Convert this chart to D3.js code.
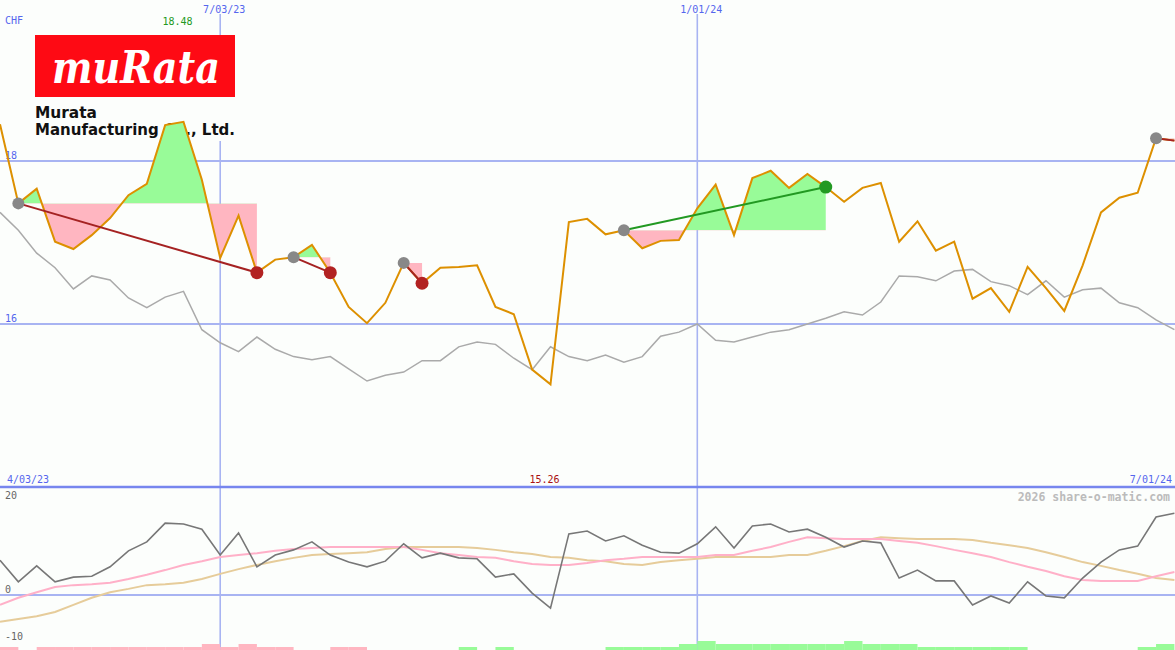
<!DOCTYPE html>
<html><head><meta charset="utf-8">
<script src="https://cdn.jsdelivr.net/npm/d3@7"></script>
<style>body{margin:0;background:#fcfefc;overflow:hidden}svg{display:block}</style>
</head><body>
<svg id="c" width="1175" height="650"></svg>
<script>
// ---- data ----
const startWeek = "2023-04-10";
const price = [18.45,17.48,17.66,17.01,16.92,17.09,17.30,17.58,17.72,18.44,18.48,17.77,16.81,17.33,16.63,16.79,16.82,16.97,16.63,16.21,16.01,16.26,16.75,16.50,16.69,16.70,16.72,16.21,16.12,15.44,15.26,17.25,17.29,17.10,17.15,16.93,17.02,17.03,17.42,17.71,17.09,17.79,17.88,17.67,17.84,17.68,17.50,17.67,17.73,17.01,17.26,16.90,17.01,16.31,16.44,16.15,16.70,16.44,16.16,16.72,17.37,17.55,17.61,18.28,18.25];
const relative = [17.37,17.15,16.87,16.69,16.43,16.59,16.54,16.32,16.20,16.33,16.40,15.93,15.77,15.66,15.84,15.69,15.60,15.56,15.60,15.45,15.30,15.37,15.41,15.55,15.55,15.72,15.78,15.75,15.58,15.44,15.72,15.60,15.55,15.62,15.53,15.60,15.85,15.90,16.00,15.80,15.78,15.84,15.90,15.93,16.00,16.07,16.15,16.11,16.27,16.59,16.58,16.53,16.65,16.67,16.52,16.47,16.36,16.53,16.33,16.42,16.44,16.26,16.20,16.05,15.93];
const momentum = [7.4,2.8,6.2,2.8,3.8,4.0,6.0,9.4,11.3,15.3,15.1,14.0,8.5,13.2,6.0,8.5,9.6,11.3,8.5,7.0,6.0,7.2,10.9,7.9,8.9,7.9,7.7,3.8,4.5,0.4,-2.8,13.0,13.6,11.5,12.6,10.6,9.1,8.9,10.9,14.5,10.0,14.7,15.1,13.4,14.0,12.3,10.2,11.5,11.1,3.6,5.3,3.0,3.0,-2.1,-0.2,-1.7,2.8,-0.2,-0.6,3.6,7.0,9.6,10.4,16.6,17.4];
const avgFast = [-2.1,-0.6,0.6,1.7,2.1,2.3,2.6,3.4,4.3,5.3,6.4,7.2,8.1,8.5,8.9,9.4,9.8,10.0,10.2,10.2,10.2,10.2,10.2,9.6,8.9,8.5,8.1,7.9,7.2,6.6,6.4,6.4,6.8,7.4,7.7,8.1,8.1,8.1,8.1,8.5,8.5,9.4,10.2,11.3,12.3,12.1,11.9,11.9,11.9,11.5,11.1,10.4,9.6,8.9,8.1,7.0,6.0,5.1,4.0,3.2,3.0,3.0,3.0,4.0,4.9];
const avgSlow = [-5.7,-5.1,-4.5,-3.6,-2.1,-0.6,0.6,1.3,2.1,2.3,2.6,3.4,4.5,5.5,6.4,7.2,7.9,8.5,8.7,8.9,9.1,9.8,10.2,10.2,10.2,10.2,10.0,9.6,9.1,8.7,8.1,7.9,7.4,7.2,6.6,6.4,7.0,7.4,7.7,8.1,8.1,8.1,8.1,8.5,8.5,9.4,10.4,11.5,12.3,12.1,11.9,11.9,11.9,11.7,11.1,10.6,10.0,9.1,8.1,7.0,6.2,5.3,4.5,3.6,3.2];
const bars = [-1,0,-1,-1,-1,-1,-1,-1,-1,-1,-1,-2,-1,-2,-1,-1,0,0,-1,-1,0,0,0,0,0,1,0,1,0,0,0,0,0,1,1,1,1,2,3,2,2,2,2,2,2,2,3,2,2,2,1,1,1,1,1,1,0,0,0,0,0,0,1,2,0];
const segments = [
  {from:1, to:14, dir:"down", endDot:true},
  {from:16, to:18, dir:"down", endDot:true},
  {from:22, to:23, dir:"down", endDot:true},
  {from:34, to:45, dir:"up", endDot:true},
  {from:63, to:64, dir:"down", endDot:false}
];
const priceTicks = [16, 18];
const momTicks = [20, 0, -10];
const dateTicks = ["2023-07-03","2024-01-01"];
const dateTickLabels = ["7/03/23","1/01/24"];
const rangeLabels = ["4/03/23","7/01/24"];
const currency = "CHF";
const company = ["Murata","Manufacturing Co., Ltd."];

// ---- scales ----
const parse = d3.timeParse("%Y-%m-%d");
const t0 = parse(startWeek);
const dates = price.map((_, i) => d3.timeWeek.offset(t0, i));
const x = d3.scaleTime().domain([dates[0], dates[dates.length-1]]).range([0, 1174.4]);
const y = d3.scaleLinear().domain([16, 18]).range([324, 161]);
const ym = d3.scaleLinear().domain([0, 20]).range([595, 501]);
const yb = d3.scaleLinear().domain([0, 3]).range([650, 641]);

const svg = d3.select("#c");
const W = 1175, H = 650;
const blue = "#5566ee", grid = "#a8b4f2";
const mono = "'DejaVu Sans Mono', monospace";

svg.append("rect").attr("width", W).attr("height", H).attr("fill", "#fcfefc");

// gridlines
svg.selectAll(".hg").data(priceTicks).join("line")
  .attr("x1", 0).attr("x2", W).attr("y1", d => y(d)).attr("y2", d => y(d))
  .attr("stroke", grid).attr("stroke-width", 2);
svg.selectAll(".vg").data(dateTicks).join("line")
  .attr("x1", d => x(parse(d))).attr("x2", d => x(parse(d)))
  .attr("y1", 14).attr("y2", H).attr("stroke", grid).attr("stroke-width", 1.6);
svg.append("line").attr("x1", 0).attr("x2", W).attr("y1", ym(0)).attr("y2", ym(0))
  .attr("stroke", grid).attr("stroke-width", 2);
svg.append("line").attr("x1", 0).attr("x2", W).attr("y1", 487).attr("y2", 487)
  .attr("stroke", "#7786ee").attr("stroke-width", 2.5);

// labels
svg.append("text").attr("x", 5).attr("y", 24).attr("fill", blue).attr("font-family", mono).attr("font-size", 10).text(currency);
svg.selectAll(".pt").data(priceTicks).join("text")
  .attr("x", 5).attr("y", d => y(d) - 2).attr("fill", blue).attr("font-family", mono).attr("font-size", 10).text(d => d);
svg.selectAll(".dt").data(dateTicks).join("text")
  .attr("x", d => x(parse(d)) + 4).attr("y", 13).attr("text-anchor", "middle")
  .attr("fill", blue).attr("font-family", mono).attr("font-size", 10).text((d, i) => dateTickLabels[i]);
svg.append("text").attr("x", 7).attr("y", 483).attr("fill", blue).attr("font-family", mono).attr("font-size", 10).text(rangeLabels[0]);
svg.append("text").attr("x", 1172).attr("y", 483).attr("text-anchor", "end").attr("fill", blue).attr("font-family", mono).attr("font-size", 10).text(rangeLabels[1]);
svg.selectAll(".mt").data(momTicks).join("text")
  .attr("x", 5).attr("y", d => ym(d) - 2).attr("fill", "#666").attr("font-family", mono).attr("font-size", 10).text(d => d);
svg.append("text").attr("x", 1170).attr("y", 501).attr("text-anchor", "end")
  .attr("fill", "#bbbbbb").attr("font-family", mono).attr("font-weight", "bold").attr("font-size", 11.5)
  .text("2026 share-o-matic.com");

const iMax = d3.maxIndex(price), iMin = d3.minIndex(price);
svg.append("text").attr("x", x(dates[iMax]) - 6).attr("y", 25).attr("text-anchor", "middle")
  .attr("fill", "#229922").attr("font-family", mono).attr("font-size", 10).text(price[iMax].toFixed(2));
svg.append("text").attr("x", x(dates[iMin]) - 6).attr("y", 483).attr("text-anchor", "middle")
  .attr("fill", "#aa1111").attr("font-family", mono).attr("font-size", 10).text(price[iMin].toFixed(2));

// logo
const logo = svg.append("g");
logo.append("rect").attr("x", 35).attr("y", 35).attr("width", 200).attr("height", 106).attr("fill", "#fcfefc");
logo.append("rect").attr("x", 35).attr("y", 35).attr("width", 200).attr("height", 62).attr("fill", "#fe0a14");
logo.append("text").attr("x", 52).attr("y", 83).attr("fill", "#fff")
  .attr("font-family", "'DejaVu Serif', serif").attr("font-style", "italic").attr("font-weight", "bold")
  .attr("font-size", 44).attr("textLength", 168).attr("lengthAdjust", "spacingAndGlyphs").text("muRata");
logo.append("text").attr("x", 35).attr("y", 118).attr("fill", "#111")
  .attr("font-family", "'DejaVu Sans', sans-serif").attr("font-weight", "bold").attr("font-size", 15)
  .attr("textLength", 62).attr("lengthAdjust", "spacingAndGlyphs").text(company[0]);
logo.append("text").attr("x", 35).attr("y", 135).attr("fill", "#111")
  .attr("font-family", "'DejaVu Sans', sans-serif").attr("font-weight", "bold").attr("font-size", 15)
  .attr("textLength", 200).attr("lengthAdjust", "spacingAndGlyphs").text(company[1]);

// segment fills
const defs = svg.append("defs");
segments.forEach((s, k) => {
  const base = y(price[s.from]);
  defs.append("clipPath").attr("id", "up" + k).append("rect").attr("x", 0).attr("y", 0).attr("width", W).attr("height", base);
  defs.append("clipPath").attr("id", "dn" + k).append("rect").attr("x", 0).attr("y", base).attr("width", W).attr("height", H - base);
  const idx = d3.range(s.from, s.to + 1);
  const area = d3.area().x(i => x(dates[i])).y0(base).y1(i => y(price[i]));
  svg.append("path").datum(idx).attr("d", area).attr("fill", "#98fb98").attr("clip-path", `url(#up${k})`);
  svg.append("path").datum(idx).attr("d", area).attr("fill", "#ffb6c1").attr("clip-path", `url(#dn${k})`);
});

// lines
const line = arr => d3.line().x((d, i) => x(dates[i])).y(d => y(d))(arr);
svg.append("path").attr("d", line(relative)).attr("fill", "none").attr("stroke", "#aaaaaa").attr("stroke-width", 1.5);
svg.append("path").attr("d", line(price)).attr("fill", "none").attr("stroke", "#dd9000").attr("stroke-width", 2);

// segment lines & dots
segments.forEach(s => {
  const col = s.dir === "up" ? "#229922" : "#a52222";
  svg.append("line").attr("x1", x(dates[s.from])).attr("y1", y(price[s.from]))
    .attr("x2", x(dates[s.to])).attr("y2", y(price[s.to])).attr("stroke", col).attr("stroke-width", 2);
  svg.append("circle").attr("cx", x(dates[s.from])).attr("cy", y(price[s.from])).attr("r", 6).attr("fill", "#888888");
  if (s.endDot) svg.append("circle").attr("cx", x(dates[s.to])).attr("cy", y(price[s.to])).attr("r", 6.5)
    .attr("fill", s.dir === "up" ? "#229922" : "#b22222");
});

// lower panel
const mline = arr => d3.line().x((d, i) => x(dates[i])).y(d => ym(d))(arr);
svg.append("path").attr("d", mline(avgSlow)).attr("fill", "none").attr("stroke", "#e6cc9a").attr("stroke-width", 2);
svg.append("path").attr("d", mline(avgFast)).attr("fill", "none").attr("stroke", "#ffb0c8").attr("stroke-width", 2);
svg.append("path").attr("d", mline(momentum)).attr("fill", "none").attr("stroke", "#777777").attr("stroke-width", 1.6);

// bottom bars
svg.selectAll(".bar").data(bars.map((v, i) => ({v, i})).filter(d => d.v !== 0)).join("rect")
  .attr("x", d => x(dates[d.i])).attr("width", d => x(dates[Math.min(d.i + 1, dates.length - 1)]) - x(dates[d.i]) || 18)
  .attr("y", d => yb(Math.abs(d.v))).attr("height", d => 650 - yb(Math.abs(d.v)))
  .attr("fill", d => d.v > 0 ? "#98fb98" : "#ffb6c1");
</script>
</body></html>
